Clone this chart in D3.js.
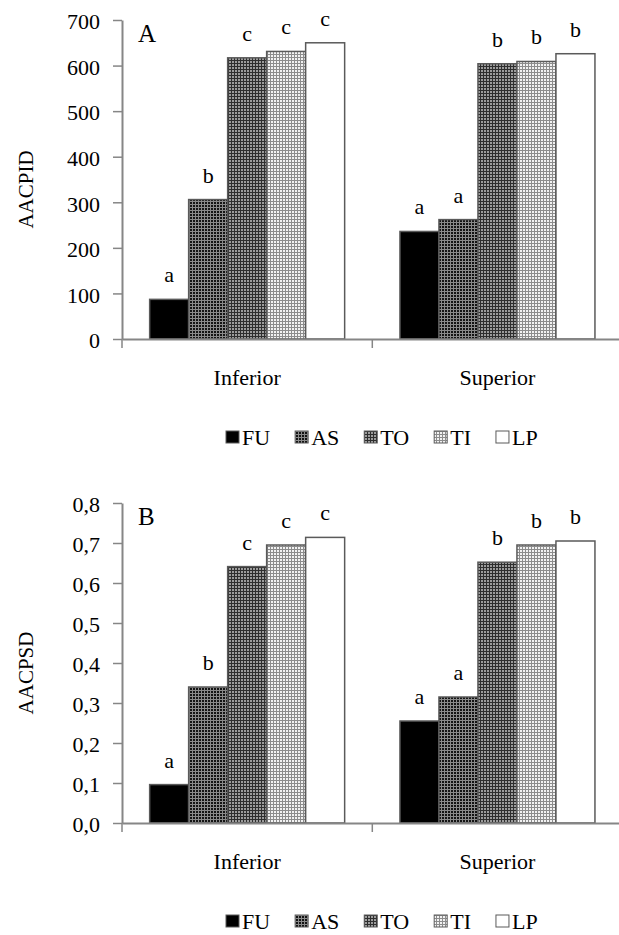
<!DOCTYPE html>
<html>
<head>
<meta charset="utf-8">
<script src="https://cdn.jsdelivr.net/npm/d3@7"></script>
<style>
  body { margin: 0; background: #fff; }
  text { font-family: "Liberation Serif", "Times New Roman", serif; fill: #000; }
</style>
</head>
<body>
<div id="chart"></div>
<script>
// data
const categories = ["Inferior", "Superior"];
const treatments = ["FU", "AS", "TO", "TI", "LP"];

const aacpidInferior = [87, 306, 617, 631, 650];
const aacpidSuperior = [236, 262, 604, 609, 626];
const aacpidLettersInf = ["a", "b", "c", "c", "c"];
const aacpidLettersSup = ["a", "a", "b", "b", "b"];
const aacpidTicks = [0, 100, 200, 300, 400, 500, 600, 700];

const aacpsdInferior = [0.096, 0.34, 0.641, 0.695, 0.714];
const aacpsdSuperior = [0.255, 0.315, 0.652, 0.695, 0.705];
const aacpsdLettersInf = ["a", "b", "c", "c", "c"];
const aacpsdLettersSup = ["a", "a", "b", "b", "b"];
const aacpsdTicks = [0, 0.1, 0.2, 0.3, 0.4, 0.5, 0.6, 0.7, 0.8];

const width = 619, height = 935;
const axisColor = "#868686";
const barStroke = "#5a5a5a";

const svg = d3.select("#chart").append("svg")
  .attr("width", width)
  .attr("height", height);

// fill patterns
const defs = svg.append("defs");
function gridPattern(id, size, bg, line) {
  const p = defs.append("pattern")
    .attr("id", id)
    .attr("patternUnits", "userSpaceOnUse")
    .attr("width", size)
    .attr("height", size);
  p.append("rect").attr("width", size).attr("height", size).attr("fill", bg);
  p.append("rect").attr("width", size).attr("height", 1).attr("fill", line);
  p.append("rect").attr("width", 1).attr("height", size).attr("fill", line);
}
gridPattern("pAS", 3, "#141414", "#8a8a8a");
gridPattern("pTO", 3, "#9c9c9c", "#2e2e2e");
gridPattern("pTI", 3, "#f2f2f2", "#8c8c8c");

const fills = {
  FU: "#000",
  AS: "url(#pAS)",
  TO: "url(#pTO)",
  TI: "url(#pTI)",
  LP: "#fff"
};

const x0 = d3.scaleBand().domain(categories).range([122, 622.6]).padding(0);
const groupW = 195;
const x1 = d3.scaleBand().domain(treatments).range([0, groupW]).padding(0);
const groupOff = (x0.bandwidth() - groupW) / 2;

function drawPanel(opts) {
  const g = svg.append("g");
  const y = d3.scaleLinear().domain(opts.domain).range([opts.bottom, opts.top]);

  const rows = [];
  categories.forEach((c, ci) => {
    treatments.forEach((t, ti) => {
      rows.push({ cat: c, key: t, value: opts.values[ci][ti], letter: opts.letters[ci][ti] });
    });
  });

  // y axis
  const yAxis = g.append("g")
    .attr("transform", `translate(${x0.range()[0]},0)`)
    .call(d3.axisLeft(y).tickValues(opts.ticks).tickSize(9).tickSizeOuter(0)
      .tickPadding(13).tickFormat(opts.format));
  yAxis.select(".domain").attr("stroke", axisColor).attr("stroke-width", 2);
  yAxis.selectAll(".tick line").attr("stroke", axisColor).attr("stroke-width", 1.5);
  yAxis.selectAll(".tick text")
    .style("font-family", "Liberation Serif")
    .style("font-size", "22px")
    .attr("dy", "0.4em");

  // bars
  g.selectAll("rect.bar")
    .data(rows)
    .join("rect")
    .attr("class", "bar")
    .attr("x", d => x0(d.cat) + groupOff + x1(d.key))
    .attr("width", x1.bandwidth())
    .attr("y", d => y(d.value))
    .attr("height", d => y(0) - y(d.value))
    .attr("fill", d => fills[d.key])
    .attr("stroke", barStroke)
    .attr("stroke-width", 1.5);

  // significance letters
  g.selectAll("text.sig")
    .data(rows)
    .join("text")
    .attr("class", "sig")
    .attr("x", d => x0(d.cat) + groupOff + x1(d.key) + x1.bandwidth() / 2)
    .attr("y", d => y(d.value) - 17)
    .attr("text-anchor", "middle")
    .style("font-size", "22px")
    .text(d => d.letter);

  // x axis
  const xAxis = g.append("g")
    .attr("transform", `translate(0,${opts.bottom})`)
    .call(d3.axisBottom(x0).tickSize(0).tickPadding(30));
  xAxis.select(".domain").attr("stroke", axisColor).attr("stroke-width", 2);
  xAxis.selectAll(".tick text")
    .style("font-family", "Liberation Serif")
    .style("font-size", "22px")
    .attr("dy", "0.71em");
  xAxis.selectAll("line.sep")
    .data(categories)
    .join("line")
    .attr("class", "sep")
    .attr("x1", d => x0(d)).attr("x2", d => x0(d))
    .attr("y1", 0).attr("y2", 9)
    .attr("stroke", axisColor)
    .attr("stroke-width", 1.5);

  // axis title
  g.append("text")
    .attr("transform", `translate(33,${(opts.top + opts.bottom) / 2 + 10}) rotate(-90)`)
    .attr("text-anchor", "middle")
    .style("font-size", "21px")
    .text(opts.title);

  // panel letter
  g.append("text")
    .attr("x", 138)
    .attr("y", opts.top + 22)
    .style("font-size", "25px")
    .text(opts.panel);

  // legend
  const leg = g.append("g").attr("transform", `translate(226,${opts.bottom + 98})`);
  let cx = 0;
  treatments.forEach(t => {
    leg.append("rect")
      .attr("x", cx).attr("y", -6)
      .attr("width", 13).attr("height", 12)
      .attr("fill", fills[t])
      .attr("stroke", barStroke)
      .attr("stroke-width", 1);
    const tx = leg.append("text")
      .attr("x", cx + 16)
      .attr("y", 8)
      .style("font-size", "22px")
      .text(t);
    cx += 16 + tx.node().getComputedTextLength() + 25;
  });
}

const fmtComma = d => d3.format(".1f")(d).replace(".", ",");

drawPanel({
  panel: "A",
  title: "AACPID",
  top: 20,
  bottom: 339,
  domain: [0, 700],
  ticks: aacpidTicks,
  format: d3.format("d"),
  values: [aacpidInferior, aacpidSuperior],
  letters: [aacpidLettersInf, aacpidLettersSup]
});

drawPanel({
  panel: "B",
  title: "AACPSD",
  top: 503,
  bottom: 823,
  domain: [0, 0.8],
  ticks: aacpsdTicks,
  format: fmtComma,
  values: [aacpsdInferior, aacpsdSuperior],
  letters: [aacpsdLettersInf, aacpsdLettersSup]
});
</script>
</body>
</html>
